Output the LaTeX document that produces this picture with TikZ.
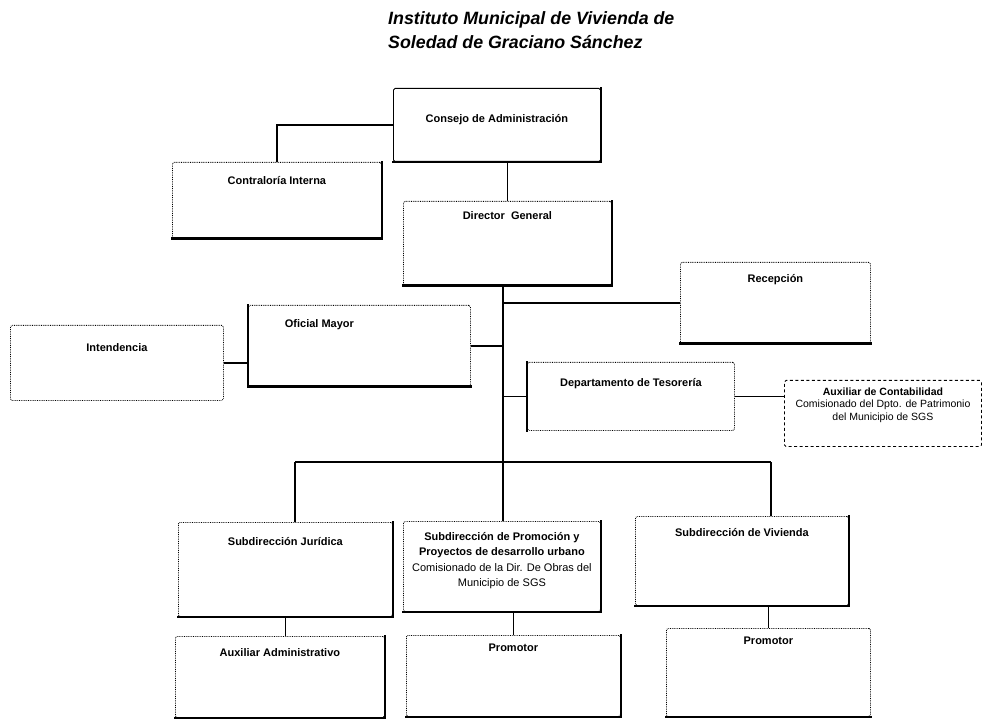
\documentclass[tikz,border=0pt]{standalone}
\usepackage{fontspec}
\setmainfont{Liberation Sans}
\usepackage{tikz}
\usetikzlibrary{positioning,calc}

\newcommand{\inbox}[4][7]{\parbox[c][#3pt][t]{#2pt}{\centering\vspace*{#1pt}#4}}

\begin{document}
\begin{tikzpicture}[
  x=1pt,y=-1pt,
  every node/.style={font=\bfseries\fontsize{11}{15.5}\selectfont,inner sep=0pt},
  box/.style={draw,densely dotted,line width=0.8pt,rounded corners=1.5pt,anchor=north west},
  solidbox/.style={box,solid,line width=0.9pt},
  dashbox/.style={box,dash pattern=on 3pt off 2.5pt,line width=0.9pt},
  edge/.style={line width=2.6pt,line cap=rect},
  link/.style={line width=1.6pt}
]
\useasboundingbox (0,0) rectangle (983,719);
\node[anchor=north west,align=left,font=\bfseries\itshape\fontsize{17.8}{24}\selectfont] (title) at (388,11)
  {Instituto Municipal de Vivienda de\\Soledad de Graciano Sánchez};
\node[solidbox] (consejo) at (393,88) {\inbox[26]{207}{73}{Consejo de Administración}};
\node[box] (contraloria) at (172,162) {\inbox[14]{209}{76}{Contraloría Interna}};
\node[box] (director) at (403,201) {\inbox[10]{208}{84}{Director\ \ General}};
\node[box] (recepcion) at (680,262) {\inbox[12]{190}{81}{Recepción}};
\node[box] (oficial) at (248,305) {\inbox[14]{222}{81}{\hspace*{-80pt}Oficial Mayor}};
\node[box] (intendencia) at (10,325) {\inbox[18]{213}{75}{Intendencia}};
\node[box] (tesoreria) at (527,362) {\inbox[16]{207}{68}{Departamento de Tesorería}};
\node[dashbox] (auxcont) at (784,380) {\inbox[7]{197}{66}{\fontsize{10.5}{12.5}\selectfont
  Auxiliar de Contabilidad\\\mdseries Comisionado del Dpto. de Patrimonio\\del Municipio de SGS}};
\node[box] (jur) at (178,522) {\inbox[15]{214}{94}{Subdirección Jurídica}};
\node[box] (prom) at (403,521) {\inbox[11]{197}{90}{Subdirección de Promoción y\\Proyectos de desarrollo urbano\\
  \mdseries Comisionado de la Dir. De Obras del\\Municipio de SGS}};
\node[box] (viv) at (635,516) {\inbox[12]{213}{89}{Subdirección de Vivienda}};
\node[box] (auxadm) at (175,636) {\inbox[12]{209}{81}{Auxiliar Administrativo}};
\node[box] (prom1) at (406,635) {\inbox[9]{214}{81}{Promotor}};
\node[box] (prom2) at (666,628) {\inbox[9]{204}{88}{Promotor}};

\foreach \n in {consejo,contraloria,director,jur,prom,viv,auxadm,prom1}
  \draw[edge] (\n.north east) -- (\n.south east) -- (\n.south west);
\foreach \n in {recepcion,prom2}
  \draw[edge] (\n.south east) -- (\n.south west);
\draw[edge] (oficial.north west) -- (oficial.south west) -- (oficial.south east);
\draw[edge] (tesoreria.north west) -- (tesoreria.south west);

\coordinate (spine) at (503,462);
\coordinate (busl) at (295,462);
\coordinate (busr) at (771,462);
\draw[link] (consejo.west) -| (contraloria.north);
\draw[link] (consejo.south -| director.north) -- (director.north);
\draw[link] (director.south -| spine) -- (spine);
\draw[link] (recepcion.west) -- (recepcion.west -| spine);
\draw[link] (oficial.east) -- (oficial.east -| spine);
\draw[link] (tesoreria.west) -- (tesoreria.west -| spine);
\draw[link] (intendencia.east) -- (intendencia.east -| oficial.west);
\draw[link] (tesoreria.east) -- (tesoreria.east -| auxcont.west);
\draw[link] (busl) -- (busr);
\draw[link] (busl) -- (busl |- jur.north);
\draw[link] (spine) -- (spine |- prom.north);
\draw[link] (busr) -- (busr |- viv.north);
\draw[link] (jur.south) -- (jur.south |- auxadm.north);
\draw[link] (prom1.north) -- (prom1.north |- prom.south);
\draw[link] (prom2.north) -- (prom2.north |- viv.south);
\end{tikzpicture}
\end{document}
